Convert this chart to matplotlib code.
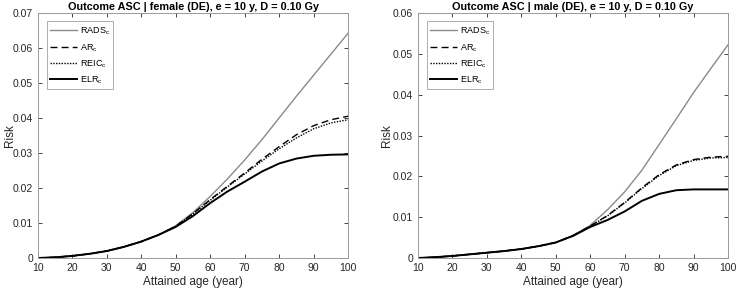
import matplotlib.pyplot as plt

plt.rcParams['font.family'] = ['Liberation Sans', 'DejaVu Sans']
plt.rcParams['mathtext.fontset'] = 'custom'
plt.rcParams['mathtext.rm'] = 'Liberation Sans'

# attained age (year)
ages = [10, 15, 20, 25, 30, 35, 40, 45, 50, 55, 60, 65, 70, 75, 80, 85, 90, 95, 100]

# female (DE)
f_rads = [0, 0.0002, 0.0006, 0.0012, 0.0020, 0.0032, 0.0047, 0.0066, 0.0092, 0.0130,
          0.0176, 0.0226, 0.0280, 0.0338, 0.0400, 0.0462, 0.0522, 0.0582, 0.0642]
f_ar = [0, 0.0002, 0.0006, 0.0012, 0.0020, 0.0032, 0.0047, 0.0066, 0.0091, 0.0127,
        0.0167, 0.0205, 0.0243, 0.0282, 0.0318, 0.0352, 0.0378, 0.0395, 0.0405]
f_reic = [0, 0.0002, 0.0006, 0.0012, 0.0020, 0.0032, 0.0047, 0.0066, 0.0091, 0.0126,
          0.0165, 0.0203, 0.0240, 0.0277, 0.0312, 0.0343, 0.0369, 0.0386, 0.0395]
f_elr = [0, 0.0002, 0.0006, 0.0012, 0.0020, 0.0032, 0.0047, 0.0066, 0.0089, 0.0120,
         0.0157, 0.0190, 0.0218, 0.0247, 0.0270, 0.0284, 0.0292, 0.0295, 0.0296]

# male (DE)
m_rads = [0, 0.0002, 0.0005, 0.0009, 0.0013, 0.0017, 0.0022, 0.0029, 0.0038, 0.0055,
          0.0080, 0.0118, 0.0162, 0.0215, 0.0278, 0.0341, 0.0405, 0.0464, 0.0522]
m_ar = [0, 0.0002, 0.0005, 0.0009, 0.0013, 0.0017, 0.0022, 0.0029, 0.0038, 0.0055,
        0.0078, 0.0104, 0.0136, 0.0172, 0.0204, 0.0228, 0.0241, 0.0247, 0.0249]
m_reic = [0, 0.0002, 0.0005, 0.0009, 0.0013, 0.0017, 0.0022, 0.0029, 0.0038, 0.0055,
          0.0078, 0.0103, 0.0135, 0.0170, 0.0202, 0.0226, 0.0239, 0.0245, 0.0246]
m_elr = [0, 0.0002, 0.0005, 0.0009, 0.0013, 0.0017, 0.0022, 0.0029, 0.0038, 0.0054,
         0.0076, 0.0093, 0.0114, 0.0140, 0.0157, 0.0166, 0.0168, 0.0168, 0.0168]

panels = [
    ("Outcome ASC | female (DE), e = 10 y, D = 0.10 Gy", f_rads, f_ar, f_reic, f_elr, 0.07),
    ("Outcome ASC | male (DE), e = 10 y, D = 0.10 Gy", m_rads, m_ar, m_reic, m_elr, 0.06),
]
lefts = [38 / 738, 418 / 738]
ylab_x = [-0.07, -0.082]

fig = plt.figure(figsize=(7.38, 2.9), dpi=100)
axcol = '#262626'

for left, lx, (title, rads, ar, reic, elr, ymax) in zip(lefts, ylab_x, panels):
    ax = fig.add_axes([left, 32 / 290, 310 / 738, 245 / 290])
    ax.plot(ages, rads, color='#8a8a8a', lw=1.0, label=r'RADS$_\mathrm{c}$')
    ax.plot(ages, ar, color='black', lw=1.0, ls=(0, (5, 3)), label=r'AR$_\mathrm{c}$')
    ax.plot(ages, reic, color='black', lw=1.0, ls=(0, (1, 1)), label=r'REIC$_\mathrm{c}$')
    ax.plot(ages, elr, color='black', lw=1.4, label=r'ELR$_\mathrm{c}$')
    ax.set_xlim(10, 100)
    ax.set_ylim(0, ymax)
    ax.set_xticks(range(10, 101, 10))
    yt = [i * 0.01 for i in range(int(round(ymax * 100)) + 1)]
    ax.set_yticks(yt)
    ax.set_yticklabels(['0'] + ['%.2f' % v for v in yt[1:]])
    ax.tick_params(direction='in', top=True, right=True, length=3, width=0.6,
                   labelsize=7.5, colors=axcol, pad=3.5)
    for s in ax.spines.values():
        s.set_color('#9a9a9a')
        s.set_linewidth(0.7)
    ax.set_title(title, fontsize=7.8, fontweight='bold', pad=2.5, color='black')
    ax.set_xlabel('Attained age (year)', fontsize=8.5, color=axcol, labelpad=2)
    ax.set_ylabel('Risk', fontsize=8.5, color=axcol)
    ax.yaxis.set_label_coords(lx, 0.5)
    leg = ax.legend(loc='upper left', fontsize=6.5, handlelength=3.0, handletextpad=0.3,
                    borderpad=0.35, labelspacing=0.5, fancybox=False,
                    bbox_to_anchor=(0.015, 0.985))
    leg.get_frame().set_edgecolor('#9a9a9a')
    leg.get_frame().set_linewidth(0.7)

fig.savefig('out.png', dpi=100)
